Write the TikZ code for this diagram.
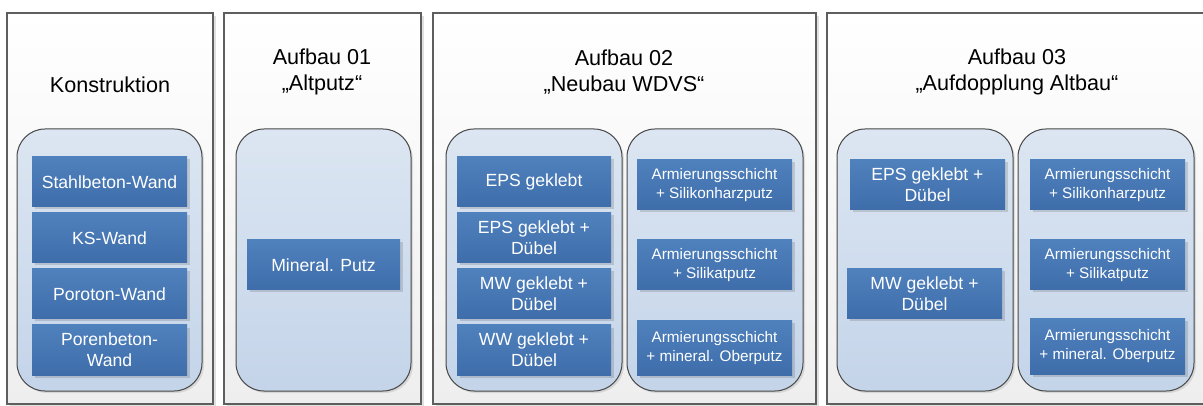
\documentclass[tikz,border=0pt]{standalone}
\usepackage{fontspec}
\setmainfont{Liberation Sans}
\usetikzlibrary{shadows}
\definecolor{panelline}{HTML}{5E5E5E}
\definecolor{panelbot}{HTML}{EEEEEE}
\definecolor{innertop}{HTML}{DCE6F2}
\definecolor{innerbot}{HTML}{C4D4E9}
\definecolor{innerline}{HTML}{474747}
\definecolor{boxtop}{HTML}{4F81BD}
\definecolor{boxbot}{HTML}{3E6DAA}
\tikzset{
  panel/.style={draw=panelline, line width=1.2pt, top color=white, bottom color=panelbot,
    minimum height=391pt, inner sep=0pt, outer sep=0pt,
    drop shadow={shadow xshift=3pt, shadow yshift=-3pt, fill=black, opacity=0.12}},
  inner/.style={draw=innerline, line width=1pt, top color=innertop, bottom color=innerbot,
    rounded corners=28pt, minimum width=176pt, minimum height=262pt, inner sep=0pt, outer sep=0pt,
    drop shadow={shadow xshift=2pt, shadow yshift=-2pt, fill=black, opacity=0.10}},
  blk/.style={top color=boxtop, bottom color=boxbot, text=white, align=center,
    minimum width=155pt, minimum height=50pt, inner sep=0pt, outer sep=0pt,
    font=\fontsize{17.6}{21}\selectfont,
    drop shadow={shadow xshift=2.5pt, shadow yshift=-2.5pt, fill=black, opacity=0.13}},
  blks/.style={blk, font=\fontsize{15.3}{19}\selectfont},
  ttl/.style={align=center, font=\fontsize{21.6}{26}\selectfont, inner sep=0pt}
}
\begin{document}
\begin{tikzpicture}[x=1pt,y=-1pt]
\useasboundingbox (0,0) rectangle (1203,406);
\begin{scope}
\clip (0,0) rectangle (1203,406);
% panels
\node[panel, minimum width=206pt] (p1) at (110,208.5) {};
\node[panel, minimum width=197pt] (p2) at (322.5,208.5) {};
\node[panel, minimum width=383pt] (p3) at (624.5,208.5) {};
\node[panel, minimum width=381pt] (p4) at (1017.5,208.5) {};
\end{scope}
% titles
\node[ttl] (t1) at (110,85) {Konstruktion};
\node[ttl] (t2) at (322,72) {Aufbau 01\\„Altputz“};
\node[ttl] (t3) at (624,72) {Aufbau 02\\„Neubau WDVS“};
\node[ttl] (t4) at (1017,72) {Aufbau 03\\„Aufdopplung Altbau“};
% inner containers
\node[inner, minimum width=185pt] (i1) at (109.5,260) {};
\node[inner, minimum width=175pt] (i2) at (323.5,260) {};
\node[inner] (i3a) at (534,260) {};
\node[inner] (i3b) at (715,260) {};
\node[inner] (i4a) at (925,260) {};
\node[inner] (i4b) at (1106,260) {};
% Konstruktion
\node[blk] (k1) at (109.5,182) {Stahlbeton-Wand};
\node[blk] (k2) at (109.5,238) {KS-Wand};
\node[blk] (k3) at (109.5,294) {Poroton-Wand};
\node[blk] (k4) at (109.5,350) {Porenbeton-\\Wand};
% Aufbau 01
\node[blk, minimum width=153pt] (a1) at (323.5,265) {Mineral. Putz};
% Aufbau 02
\node[blk, minimum width=154pt] (b1) at (534,182) {EPS geklebt};
\node[blk, minimum width=154pt] (b2) at (534,238) {EPS geklebt +\\Dübel};
\node[blk, minimum width=154pt] (b3) at (534,294) {MW geklebt +\\Dübel};
\node[blk, minimum width=154pt] (b4) at (534,350) {WW geklebt +\\Dübel};
\node[blks] (c1) at (714.5,185) {Armierungsschicht\\+ Silikonharzputz};
\node[blks] (c2) at (714.5,265) {Armierungsschicht\\+ Silikatputz};
\node[blks, minimum height=54pt] (c3) at (714.5,348) {Armierungsschicht\\+ mineral. Oberputz};
% Aufbau 03
\node[blk] (d1) at (927.5,185) {EPS geklebt +\\Dübel};
\node[blk] (d2) at (924.5,294) {MW geklebt +\\Dübel};
\node[blks] (e1) at (1107.5,185) {Armierungsschicht\\+ Silikonharzputz};
\node[blks] (e2) at (1107.5,265) {Armierungsschicht\\+ Silikatputz};
\node[blks, minimum height=55pt] (e3) at (1107.5,346.5) {Armierungsschicht\\+ mineral. Oberputz};
\end{tikzpicture}
\end{document}
